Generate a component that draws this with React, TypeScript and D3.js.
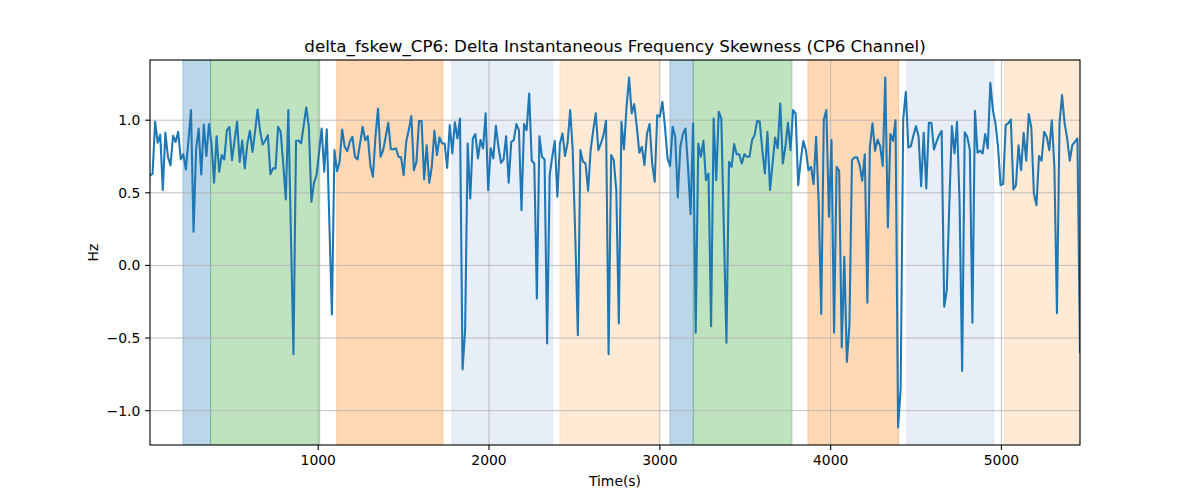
import React from "react";
import * as d3 from "d3";

// sampled values (Hz), one every 15 s starting at t = 15
const values: number[] = [
  0.62, 0.63, 0.99, 0.845, 0.90, 0.52, 0.915, 0.748, 0.688, 0.893,
  0.85, 0.92, 0.73, 0.766, 0.66, 0.86, 1.07, 0.232, 0.80, 0.943,
  0.626, 0.97, 0.753, 0.973, 0.84, 0.569, 0.89, 0.645, 0.76, 0.73,
  0.93, 0.955, 0.725, 0.86, 0.99, 0.713, 0.86, 0.668, 0.84, 0.927,
  0.782, 0.92, 1.074, 0.92, 0.833, 0.86, 0.897, 0.628, 0.668, 0.668,
  0.955, 0.92, 0.70, 0.454, 1.07, 0.22, -0.611, 0.856, 0.86, 0.84,
  0.966, 1.088, 0.955, 0.438, 0.569, 0.622, 0.78, 0.943, 0.645, 0.938,
  0.30, -0.338, 0.794, 0.649, 0.713, 0.936, 0.817, 0.787, 0.851, 0.886,
  0.748, 0.730, 0.84, 0.955, 0.863, 0.89, 0.69, 0.61, 0.886, 1.081,
  0.748, 0.794, 0.886, 0.982, 0.80, 0.80, 0.806, 0.748, 0.744, 0.622,
  0.851, 0.932, 1.028, 0.656, 0.713, 0.994, 0.994, 0.592, 0.828, 0.569,
  0.68, 0.927, 0.76, 0.881, 0.84, 0.84, 0.672, 0.966, 0.771, 0.985,
  0.874, 1.012, -0.716, -0.446, 0.84, 0.461, 0.874, 0.904, 0.737, 0.863,
  0.806, 1.047, 0.518, 0.806, 0.737, 0.962, 0.817, 0.707, 0.730, 0.89,
  0.569, 0.851, 0.863, 0.973, 0.932, 0.381, 0.973, 0.932, 1.184, 0.721,
  0.702, -0.228, 0.890, 0.748, 0.730, -0.537, 0.622, 0.748, 0.858, 0.473,
  0.84, 0.909, 0.753, 0.845, 1.07, 0.794, 0.197, -0.48, 0.794, 0.714,
  0.702, 0.514, 0.794, 0.932, 1.047, 0.794, 0.84, 0.897, 0.996, -0.611,
  0.76, 0.725, 0.519, -0.40, 0.989, 0.799, 1.092, 1.294, 1.047, 1.111,
  0.955, 0.776, 0.817, 0.691, 0.909, 0.973, 0.702, 0.576, 1.035, 1.024,
  1.127, 0.955, 0.737, 0.684, 0.955, 0.886, 0.468, 0.817, 0.904, 0.943,
  0.679, 0.353, 0.978, -0.464, 0.84, 0.748, 0.858, 0.587, 0.633, -0.418,
  1.012, 0.587, 1.058, 1.012, 0.243, -0.533, 0.714, 0.679, 0.835, 0.766,
  0.766, 0.702, 0.766, 0.748, 0.748, 0.863, 0.897, 0.996, 0.989, 0.794,
  0.633, 0.92, 0.519, 0.702, 0.881, 0.806, 1.115, 0.702, 0.817, 0.982,
  0.794, 1.07, 1.047, 0.553, 0.725, 0.856, 0.794, 0.656, 0.679, 0.56,
  0.886, 0.427, -0.335, 1.005, 1.07, 0.335, 0.863, -0.464, 0.679, 0.652,
  -0.565, 0.059, -0.664, -0.411, 0.725, 0.744, 0.744, 0.691, 0.583, 0.766,
  -0.257, 0.817, 0.978, 0.789, 0.867, 0.822, 0.684, 1.294, 0.261, 0.904,
  0.858, 1.0, -1.116, -0.847, 1.005, 1.196, 0.812, 0.822, 0.897, 0.959,
  0.886, 0.546, 0.913, 0.530, 0.982, 0.982, 0.799, 0.851, 0.897, 0.927,
  -0.285, -0.17, 0.427, 0.959, 0.771, 0.989, 0.427, -0.726, 0.916, 0.886,
  0.794, -0.395, 1.065, 0.776, 0.789, 0.771, 0.904, 0.806, 1.258, 1.07,
  0.978, 0.817, 0.553, 0.56, 0.966, 0.978, 1.005, 0.523, 0.553, 0.828,
  0.656, 0.913, 0.721, 1.042, 0.95, 0.496, 0.415, 0.753, 0.721, 0.92,
  0.886, 0.794, 1.0, 0.679, -0.33, 0.978, 1.173, 0.978, 0.874, 0.721,
  0.828, 0.851, 0.874, -0.595,
];
const timeStep = 15;
const times: number[] = values.map((_, i) => timeStep * (i + 1));

// shaded segments
const bandStarts: number[] = [208, 370, 1108, 1783, 2415, 3059, 3196, 3867, 4447, 5019];
const bandEnds: number[] = [370, 1009, 1730, 2372, 2997, 3196, 3774, 4398, 4955, 5460];
const bandColors: string[] = ["#1f77b4", "#2ca02c", "#ff7f0e", "#aec7e8", "#ffbb78", "#1f77b4", "#2ca02c", "#ff7f0e", "#aec7e8", "#ffbb78"];
const bandAlphas: number[] = [0.3, 0.3, 0.3, 0.3, 0.3, 0.3, 0.3, 0.3, 0.3, 0.3];

const xTicks: number[] = [1000, 2000, 3000, 4000, 5000];
const yTicks: number[] = [-1.0, -0.5, 0.0, 0.5, 1.0];

const title = "delta_fskew_CP6: Delta Instantaneous Frequency Skewness (CP6 Channel)";
const xLabel = "Time(s)";
const yLabel = "Hz";

export default function App() {
  const W = 1200, H = 500;
  const L = 150, R = 1080, T = 60, B = 445;
  const font = "DejaVu Sans, sans-serif";

  const x = d3.scaleLinear().domain([times[0], times[times.length - 1]]).range([L, R]);
  const vmin = d3.min(values) as number;
  const vmax = d3.max(values) as number;
  const pad = (vmax - vmin) * 0.05;
  const y = d3.scaleLinear().domain([vmin - pad, vmax + pad]).range([B, T]);

  const line = d3.line<number>().x((_, i) => x(times[i])).y((d) => y(d));
  const fmt = (v: number) => (v < 0 ? "\u2212" + Math.abs(v).toFixed(1) : v.toFixed(1));

  return (
    <svg width={W} height={H} style={{ display: "block", margin: "-8px" }}>
      <rect x={0} y={0} width={W} height={H} fill="#fff" />
      <defs>
        <clipPath id="plot">
          <rect x={L} y={T} width={R - L} height={B - T} />
        </clipPath>
      </defs>
      <g clipPath="url(#plot)">
        {bandStarts.map((s, i) => (
          <rect
            key={i}
            x={x(s)}
            y={T}
            width={x(bandEnds[i]) - x(s)}
            height={B - T}
            fill={bandColors[i]}
            fillOpacity={bandAlphas[i]}
            stroke={bandColors[i]}
            strokeOpacity={bandAlphas[i]}
            strokeWidth={1}
          />
        ))}
      </g>
      {xTicks.map((t) => (
        <line key={"gx" + t} x1={x(t)} x2={x(t)} y1={T} y2={B} stroke="#b0b0b0" strokeWidth={0.8} />
      ))}
      {yTicks.map((t) => (
        <line key={"gy" + t} x1={L} x2={R} y1={y(t)} y2={y(t)} stroke="#b0b0b0" strokeWidth={0.8} />
      ))}
      <g clipPath="url(#plot)">
        <path d={line(values) || ""} fill="none" stroke="#1f77b4" strokeWidth={2.08} strokeLinejoin="round" strokeLinecap="square" />
      </g>
      <rect x={L} y={T} width={R - L} height={B - T} fill="none" stroke="#000" strokeWidth={1.1} />
      {xTicks.map((t) => (
        <g key={"tx" + t}>
          <line x1={x(t)} x2={x(t)} y1={B} y2={B + 4.9} stroke="#000" strokeWidth={1.1} />
          <text x={x(t)} y={B + 19.5} fontFamily={font} fontSize={13.9} textAnchor="middle" fill="#000">
            {t}
          </text>
        </g>
      ))}
      {yTicks.map((t) => (
        <g key={"ty" + t}>
          <line x1={L - 4.9} x2={L} y1={y(t)} y2={y(t)} stroke="#000" strokeWidth={1.1} />
          <text x={L - 9.7} y={y(t) + 5} fontFamily={font} fontSize={13.9} textAnchor="end" fill="#000">
            {fmt(t)}
          </text>
        </g>
      ))}
      <text x={(L + R) / 2} y={B + 41} fontFamily={font} fontSize={13.9} textAnchor="middle" fill="#000">
        {xLabel}
      </text>
      <text
        transform={`translate(${98},${(T + B) / 2}) rotate(-90)`}
        fontFamily={font}
        fontSize={13.9}
        textAnchor="middle"
        fill="#000"
      >
        {yLabel}
      </text>
      <text x={(L + R) / 2} y={T - 8.3} fontFamily={font} fontSize={16.7} textAnchor="middle" fill="#000">
        {title}
      </text>
    </svg>
  );
}
